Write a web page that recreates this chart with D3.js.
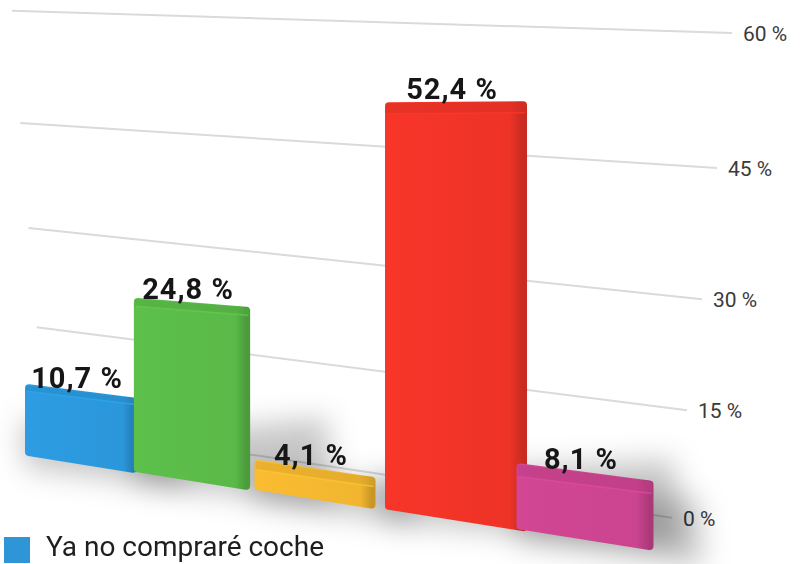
<!DOCTYPE html>
<html>
<head>
<meta charset="utf-8">
<script src="https://cdn.jsdelivr.net/npm/d3@7"></script>
<style>
  body { margin: 0; background: #fff; }
  svg { display: block; font-family: Roboto, "Noto Sans", sans-serif; }
</style>
</head>
<body>
<div id="chart"></div>
<script>
// Data
var values = [10.7, 24.8, 4.1, 52.4, 8.1];
var barColors = ["#2b97da", "#5ab948", "#f1b52f", "#ee3327", "#cb448f"];
var tickValues = [0, 15, 30, 45, 60];
var legendLabels = ["Ya no compraré coche"];
var legendColors = ["#2e95d6"];

var svgWidth = 809;
var svgHeight = 564;

var svg = d3.select("#chart")
  .append("svg")
  .attr("width", svgWidth)
  .attr("height", svgHeight);

var defs = svg.append("defs");
defs.append("filter")
  .attr("id", "soft")
  .attr("x", "-50%").attr("y", "-50%")
  .attr("width", "200%").attr("height", "200%")
  .append("feGaussianBlur")
  .attr("stdDeviation", 14);

// number format with a decimal comma
var esFormat = d3.formatLocale({ decimal: ",", thousands: ".", grouping: [3], currency: ["", " €"] }).format(".1f");

// ---- perspective scales ----
// back wall (gridlines): value -> y at the left and right edge of the wall
var wallLeft = d3.scaleLinear().domain(tickValues).range([420, 325, 227, 123, 11]);
var wallRight = d3.scaleLinear().domain(tickValues).range([522, 412, 299, 167, 32]);
var wallX = d3.scaleLinear().domain([20, 700]).range([0, 1]);
function wallY(v, x) {
  return d3.interpolateNumber(wallLeft(v), wallRight(v))(wallX(x));
}
var gridStart = d3.scaleLinear().domain([0, 60]).range([45, 12]);
var gridEnd = d3.scaleLinear().domain([0, 60]).range([672, 732]);

// bar plane: index -> centre x, x -> baseline y, x -> pixels per percent
var xCenter = d3.scaleLinear().domain([0, 1, 2, 3, 4]).range([81, 192, 315, 456, 585]);
var barWidth = d3.scaleLinear().domain([81, 315, 456, 585]).range([112, 121, 142, 137]);
var baseY = d3.scaleLinear().domain([25, 653]).range([456, 550]);
var unit = d3.scaleLinear().domain([25, 653]).range([6.7, 8.58]);
function barY(v, x) { return baseY(x) - v * unit(x); }

// gridlines
var grid = svg.append("g");
tickValues.forEach(function(t) {
  var x0 = gridStart(t), x1 = gridEnd(t);
  grid.append("line")
    .attr("x1", x0).attr("y1", wallY(t, x0))
    .attr("x2", x1).attr("y2", wallY(t, x1))
    .attr("stroke", "#dadada")
    .attr("stroke-width", 2);
  grid.append("text")
    .attr("x", x1 + 11)
    .attr("y", wallY(t, x1) + 1)
    .attr("dominant-baseline", "central")
    .attr("font-size", 21)
    .attr("fill", "#3a3a3a")
    .text(t + " %");
});

// bar geometry
var bars = values.map(function(v, i) {
  var cx = xCenter(i);
  var w = barWidth(cx);
  var xl = cx - w / 2, xr = cx + w / 2;
  return {
    value: v, color: barColors[i], cx: cx, xl: xl, xr: xr,
    tl: barY(v, xl), tr: barY(v, xr), bl: barY(0, xl), br: barY(0, xr),
    depth: 6 + 0.012 * cx
  };
});

var poly = d3.line().curve(d3.curveLinearClosed);

// soft shadows
var shadows = svg.append("g").attr("filter", "url(#soft)");
bars.forEach(function(b) {
  var h = b.bl - b.tl;
  shadows.append("path")
    .attr("d", poly([
      [b.xl - 4, b.bl - Math.min(h, 50) * 0.7],
      [b.xr + 25 + h * 0.3, b.br - Math.min(h, 90) * 0.8],
      [b.xr + 30 + h * 0.3, b.br + 16],
      [b.xl, b.bl + 12]
    ]))
    .attr("fill", "#000")
    .attr("opacity", 0.22);
});

// bars
bars.forEach(function(b, i) {
  var grad = defs.append("linearGradient")
    .attr("id", "g" + i)
    .attr("x1", 0).attr("x2", 1).attr("y1", 0).attr("y2", 0);
  var c = d3.color(b.color);
  grad.append("stop").attr("offset", "0%").attr("stop-color", c.brighter(0.1));
  grad.append("stop").attr("offset", "90%").attr("stop-color", c);
  grad.append("stop").attr("offset", "100%").attr("stop-color", c.darker(0.5));

  var g = svg.append("g");
  var r = 4;
  // whole body with rounded corners (stroke trick)
  g.append("path")
    .attr("d", poly([
      [b.xl + r, b.tl + r], [b.xr - r, b.tr + r],
      [b.xr - r, b.br - r], [b.xl + r, b.bl - r]
    ]))
    .attr("fill", "url(#g" + i + ")")
    .attr("stroke", "url(#g" + i + ")")
    .attr("stroke-width", r * 2)
    .attr("stroke-linejoin", "round");
  // top face
  g.append("path")
    .attr("d", poly([
      [b.xl + 1, b.tl + 1], [b.xr - 1, b.tr + 1],
      [b.xr - 1, b.tr + b.depth], [b.xl + 1, b.tl + b.depth]
    ]))
    .attr("fill", c.darker(0.25))
    .attr("opacity", 0.55);
  // edge line between top and front
  g.append("line")
    .attr("x1", b.xl + 2).attr("y1", b.tl + b.depth)
    .attr("x2", b.xr - 2).attr("y2", b.tr + b.depth)
    .attr("stroke", c.brighter(0.3))
    .attr("stroke-width", 1.5)
    .attr("opacity", 0.7);
});

// value labels
svg.append("g").selectAll("text")
  .data(bars)
  .enter()
  .append("text")
  .attr("x", d => d.cx - 4)
  .attr("y", d => barY(d.value, d.cx) - 3)
  .attr("text-anchor", "middle")
  .attr("font-size", 29)
  .attr("font-weight", "bold")
  .attr("letter-spacing", 1)
  .attr("fill", "#161616")
  .text(d => esFormat(d.value) + " %");

// legend
var legend = svg.append("g");
legendLabels.forEach(function(label, i) {
  legend.append("rect")
    .attr("x", 4).attr("y", 537)
    .attr("width", 26).attr("height", 26)
    .attr("fill", legendColors[i]);
  legend.append("text")
    .attr("x", 46).attr("y", 556)
    .attr("font-size", 28)
    .attr("fill", "#1e1e1e")
    .text(label);
});
</script>
</body>
</html>
